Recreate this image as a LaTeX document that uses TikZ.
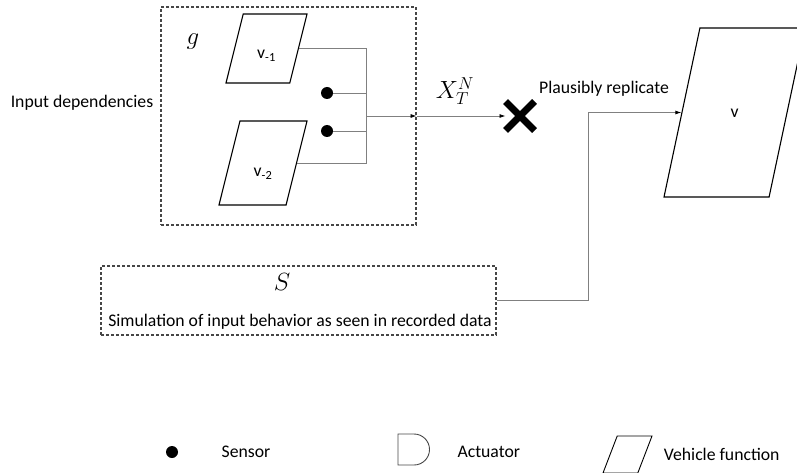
\documentclass[tikz,border=0pt]{standalone}
\usepackage{fontspec}
\setmainfont{Carlito}
\definecolor{wiregray}{RGB}{128, 128, 128}
\definecolor{boxgray}{RGB}{70, 70, 70}
\usetikzlibrary{positioning}
\usetikzlibrary{shapes.geometric}
\usetikzlibrary{shapes.misc}
\usetikzlibrary{arrows.meta}

\begin{document}
\begin{tikzpicture}[every node/.style={font=\fontsize{17.7}{21}\selectfont},
  vfunc/.style={trapezium, trapezium stretches body=true, trapezium left angle=76, trapezium right angle=104, draw=black, line width=1.1pt, inner sep=0pt},
  dashbox/.style={rectangle, draw=boxgray, line width=1.1pt, dash pattern=on 3pt off 2pt},
  sensor/.style={circle, fill=black, minimum size=12pt, inner sep=0pt},
  wire/.style={draw=wiregray, line width=0.8pt},
  arrow/.style={wire, -{Latex[length=6pt, width=4pt, color=black]}}]
\useasboundingbox (0pt, 0pt) rectangle (797pt, -473pt);

% dependencies of the function
\node (g) [dashbox, minimum width=255pt, minimum height=218pt] at (288.5pt, -116pt) {};
\node (glabel) [font=\fontsize{26}{30}\selectfont] at (193pt, -42pt) {$g$};
\node (deps) at (82pt, -103pt) {Input dependencies};
\node (v1) [vfunc, text height=45pt, text depth=24pt, minimum width=81pt] at (266.5pt, -48.5pt) {v\textsubscript{-1}};
\node (v2) [vfunc, text height=56pt, text depth=28pt, minimum width=88pt] at (263pt, -163pt) {v\textsubscript{-2}};
\node (s1) [sensor] at (327pt, -93pt) {};
\node (s2) [sensor] at (327pt, -131pt) {};
\coordinate (bus) at (366pt, -116pt);
\draw [wire] (v1.east) -| (bus);
\draw [wire] (v2.east) -| (bus);
\draw [wire] (s1) -| (bus);
\draw [wire] (s2) -| (bus);
\draw [arrow] (bus) -- (g.east);

% blocked path and replicated path
\node (block) [cross out, draw=black, line width=7pt, minimum size=22pt] at (520pt, -116pt) {};
\draw [arrow] (g.east) -- (block.west);
\node (xlabel) [font=\fontsize{23}{27}\selectfont] at (455pt, -91pt) {$X_T^N$};
\node (replicate) at (604pt, -89pt) {Plausibly replicate};
\node (v) [vfunc, trapezium left angle=78, trapezium right angle=102, text height=89.5pt, text depth=79.5pt, minimum width=141pt] at (734.5pt, -112.5pt) {v};

\node (sim) [dashbox, minimum width=395pt, minimum height=69pt] at (298.5pt, -300.5pt) {};
\node (slabel) [font=\fontsize{28}{32}\selectfont] at (282pt, -282pt) {$S$};
\node (simtext) at (300pt, -322pt) {Simulation of input behavior as seen in recorded data};
\draw [arrow] (sim.east) -- ++(92pt, 0pt) |- (v.west);

% legend
\node (sensor) [sensor] at (172pt, -452pt) {};
\node (sensortxt) [right=40pt of sensor] {Sensor};
\draw [draw=boxgray, line width=0.9pt] (398pt, -434pt) -- (414pt, -434pt) arc[start angle=90, end angle=-90, radius=15.5pt] -- (398pt, -465pt) -- cycle;
\coordinate (actuator) at (430pt, -452pt);
\node (actuatortxt) [right=24pt of actuator] {Actuator};
\node (vfunclegend) [vfunc, trapezium left angle=69, trapezium right angle=111, line width=0.9pt, text height=18.5pt, text depth=18.5pt, minimum width=49pt] at (627.5pt, -454.5pt) {\phantom{v}};
\node (vfunctxt) [right=15pt of vfunclegend] {Vehicle function};
\end{tikzpicture}
\end{document}
